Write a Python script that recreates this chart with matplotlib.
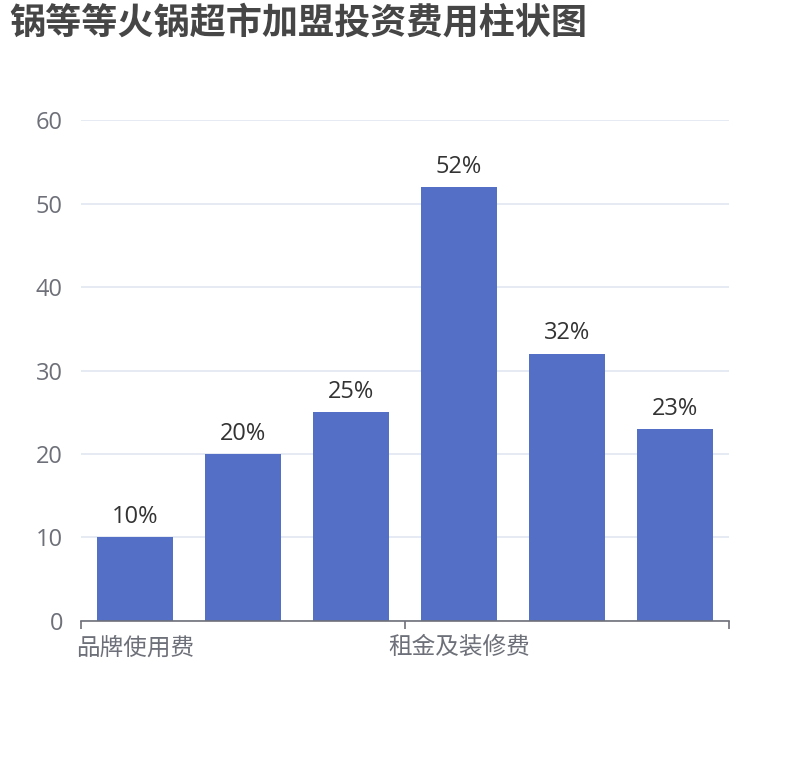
import matplotlib
matplotlib.use("Agg")
import matplotlib.pyplot as plt
import numpy as np

plt.rcParams['font.family'] = ['Open Sans', 'Noto Sans CJK SC', 'DejaVu Sans']

# 数据
categories = ["品牌使用费", "保证金", "设备费用", "租金及装修费", "首批进货费", "其他费用"]
values = [10, 20, 25, 52, 32, 23]
shown_labels = [0, 3]          # 只显示部分类目名
y_ticks = [0, 10, 20, 30, 40, 50, 60]

fig = plt.figure(figsize=(8.1, 7.6), dpi=100)
ax = fig.add_axes([0.1, 0.183, 0.8, 0.659])

x = np.arange(len(categories))
ax.bar(x, values, width=0.7, color="#5470C6", zorder=3)

for xi, v in zip(x, values):
    ax.annotate("{}%".format(v), (xi, v), xytext=(0, 6), textcoords="offset points",
                ha="center", va="bottom", fontsize=17, color="#333333")

ax.set_xlim(-0.5, len(categories) - 0.5)
ax.set_ylim(0, 60)
ax.set_yticks(y_ticks)
ax.set_yticklabels([str(t) for t in y_ticks], fontsize=17, color="#6E7079")
ax.tick_params(axis="y", length=0, pad=13)
ax.yaxis.grid(True, color="#E0E6F1", linewidth=1.2, zorder=0)

# x轴：刻度在类目边界，标签在类目中心
ax.set_xticks([-0.5, 2.5, 5.5])
ax.set_xticklabels([])
ax.tick_params(axis="x", length=6, width=1.2, color="#6E7079", direction="out")
ax.set_xticks([x[i] for i in shown_labels], minor=True)
ax.set_xticklabels([categories[i] for i in shown_labels], minor=True,
                   fontsize=17, color="#6E7079")
ax.tick_params(axis="x", which="minor", length=0, pad=11)

for s in ["top", "right", "left"]:
    ax.spines[s].set_visible(False)
ax.spines["bottom"].set_color("#6E7079")
ax.spines["bottom"].set_linewidth(1.2)
ax.spines["bottom"].set_zorder(4)

fig.text(0.012, 0.967, "锅等等火锅超市加盟投资费用柱状图", fontsize=26, fontweight="bold",
         color="#464646", ha="left", va="center")

fig.savefig("out.png", dpi=100)
